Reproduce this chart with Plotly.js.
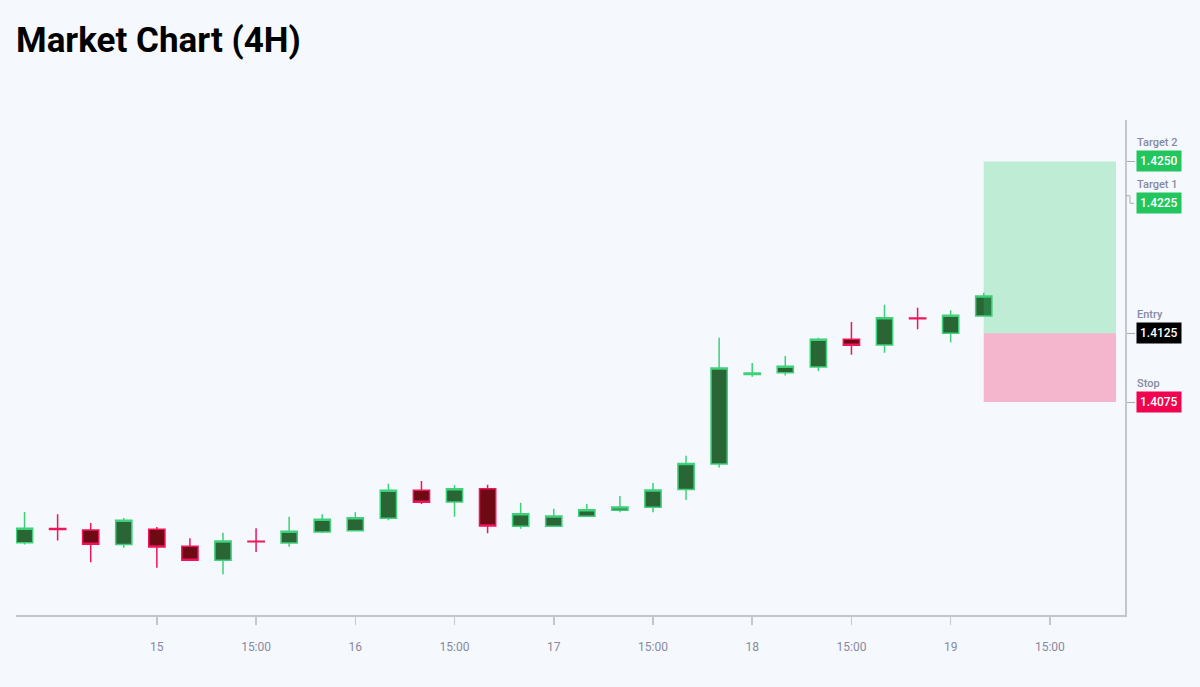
<!DOCTYPE html>
<html>
<head>
<meta charset="utf-8">
<script src="https://cdn.plot.ly/plotly-3.0.1.min.js"></script>
<style>html,body{margin:0;padding:0;background:#f5f8fd;}#chart{width:1200px;height:687px;}</style>
</head>
<body>
<div id="chart"></div>
<script>
// 4H candles, 14th 08:00 .. 19th 04:00
var times = [
  '2024-03-14 08:00','2024-03-14 12:00','2024-03-14 16:00','2024-03-14 20:00',
  '2024-03-15 00:00','2024-03-15 04:00','2024-03-15 08:00','2024-03-15 12:00','2024-03-15 16:00','2024-03-15 20:00',
  '2024-03-16 00:00','2024-03-16 04:00','2024-03-16 08:00','2024-03-16 12:00','2024-03-16 16:00','2024-03-16 20:00',
  '2024-03-17 00:00','2024-03-17 04:00','2024-03-17 08:00','2024-03-17 12:00','2024-03-17 16:00','2024-03-17 20:00',
  '2024-03-18 00:00','2024-03-18 04:00','2024-03-18 08:00','2024-03-18 12:00','2024-03-18 16:00','2024-03-18 20:00',
  '2024-03-19 00:00','2024-03-19 04:00'
];
var openP  = [1.39727,1.39830,1.39819,1.39713,1.39825,1.39701,1.39599,1.39738,1.39725,1.39805,
              1.39814,1.39905,1.40108,1.40023,1.40120,1.39846,1.39846,1.39919,1.39963,1.39985,
              1.40113,1.40299,1.40950,1.40963,1.41005,1.41206,1.41165,1.41361,1.41250,1.41376];
var highP  = [1.39950,1.39934,1.39870,1.39907,1.39841,1.39759,1.39800,1.39832,1.39916,1.39934,
              1.39948,1.40156,1.40176,1.40147,1.40149,1.40018,1.39974,1.40009,1.40067,1.40161,
              1.40360,1.41218,1.41034,1.41085,1.41218,1.41332,1.41458,1.41436,1.41417,1.41545];
var lowP   = [1.39713,1.39742,1.39585,1.39691,1.39545,1.39598,1.39497,1.39659,1.39698,1.39798,
              1.39810,1.39890,1.40009,1.39916,1.39795,1.39829,1.39845,1.39918,1.39948,1.39948,
              1.40038,1.40273,1.40934,1.40942,1.40976,1.41094,1.41109,1.41279,1.41185,1.41374];
var closeP = [1.39832,1.39823,1.39715,1.39890,1.39696,1.39599,1.39739,1.39734,1.39810,1.39897,
              1.39909,1.40108,1.40021,1.40120,1.39849,1.39938,1.39921,1.39967,1.39987,1.40110,
              1.40302,1.40998,1.40961,1.41010,1.41206,1.41163,1.41363,1.41356,1.41381,1.41521];

// trade levels
var levelNames  = ['Target 2','Target 1','Entry','Stop'];
var levelValues = [1.4250, 1.4225, 1.4125, 1.4075];
var levelLabels = ['1.4250','1.4225','1.4125','1.4075'];
var levelColors = ['#22c55e','#22c55e','#000000','#f0044f'];
var zoneStart = '2024-03-19 04:00';
var zoneEnd   = '2024-03-19 20:00';

// x-axis ticks
var tickVals = ['2024-03-15 00:00','2024-03-15 12:00','2024-03-16 00:00','2024-03-16 12:00',
                '2024-03-17 00:00','2024-03-17 12:00','2024-03-18 00:00','2024-03-18 12:00',
                '2024-03-19 00:00','2024-03-19 12:00'];
var tickText = ['15','15:00','16','15:00','17','15:00','18','15:00','19','15:00'];

var trace = {
  type: 'candlestick',
  x: times, open: openP, high: highP, low: lowP, close: closeP,
  increasing: {fillcolor: '#2a6535', line: {color: '#3fd07a', width: 1.5}},
  decreasing: {fillcolor: '#6e0a14', line: {color: '#f0145a', width: 1.5}},
  whiskerwidth: 0,
  hoverinfo: 'x+y'
};

// label offset for Target 1 (label placed lower than its level)
var t1Offset = 0.00055;
var labelY = [levelValues[0], levelValues[1] - t1Offset, levelValues[2], levelValues[3]];

var annotations = [];
for (var i = 0; i < levelNames.length; i++) {
  annotations.push({
    xref: 'paper', yref: 'y', x: 1, y: labelY[i], xanchor: 'left', yanchor: 'middle',
    xshift: 11, text: levelLabels[i], showarrow: false,
    bgcolor: levelColors[i], borderpad: 3,
    font: {family: 'Roboto', size: 12, color: '#ffffff', weight: 500}
  });
  annotations.push({
    xref: 'paper', yref: 'y', x: 1, y: labelY[i], xanchor: 'left', yanchor: 'middle',
    xshift: 10, yshift: 19, text: levelNames[i], showarrow: false,
    font: {family: 'Roboto', size: 11, color: '#868aa0', weight: 500}
  });
}

var shapes = [
  {type: 'rect', xref: 'x', yref: 'y', x0: zoneStart, x1: zoneEnd, y0: levelValues[2], y1: levelValues[0],
   fillcolor: 'rgba(46,204,113,0.28)', line: {width: 0}, layer: 'above'},
  {type: 'rect', xref: 'x', yref: 'y', x0: zoneStart, x1: zoneEnd, y0: levelValues[3], y1: levelValues[2],
   fillcolor: 'rgba(240,20,90,0.29)', line: {width: 0}, layer: 'above'},
  {type: 'path', xref: 'paper', xsizemode: 'pixel', xanchor: 1, yref: 'y',
   path: 'M1,' + levelValues[1] + ' H5 V' + (levelValues[1] - t1Offset) + ' H9',
   line: {color: '#a9adb8', width: 1}}
];

var layout = {
  width: 1200, height: 687,
  paper_bgcolor: '#f5f8fd', plot_bgcolor: '#f5f8fd',
  margin: {l: 16, r: 75, t: 120, b: 72},
  title: {text: '<b>Market Chart (4H)</b>', x: 16/1200, xanchor: 'left', xref: 'container',
          y: 1 - 40/687, yanchor: 'middle', yref: 'container',
          font: {family: 'Roboto', size: 35, color: '#000000'}},
  showlegend: false,
  xaxis: {
    type: 'date', range: ['2024-03-14 06:58', '2024-03-19 21:05'],
    rangeslider: {visible: false},
    tickvals: tickVals, ticktext: tickText,
    ticks: 'outside', ticklen: 8, tickcolor: '#c3c6cf', tickwidth: 1.5,
    showline: true, linecolor: '#c3c6cf', linewidth: 1.5,
    showgrid: false, zeroline: false, ticklabelstandoff: 12,
    tickfont: {family: 'Roboto', size: 12, color: '#868aa0'}
  },
  yaxis: {
    side: 'right', range: [1.39201, 1.42801],
    tickvals: [levelValues[0], levelValues[2], levelValues[3]],
    showticklabels: false, ticks: 'outside', ticklen: 8, tickcolor: '#a9adb8', tickwidth: 1,
    showline: true, linecolor: '#c3c6cf', linewidth: 1.5,
    showgrid: false, zeroline: false
  },
  shapes: shapes,
  annotations: annotations
};

Plotly.newPlot('chart', [trace], layout, {displayModeBar: false, staticPlot: true});
</script>
</body>
</html>
